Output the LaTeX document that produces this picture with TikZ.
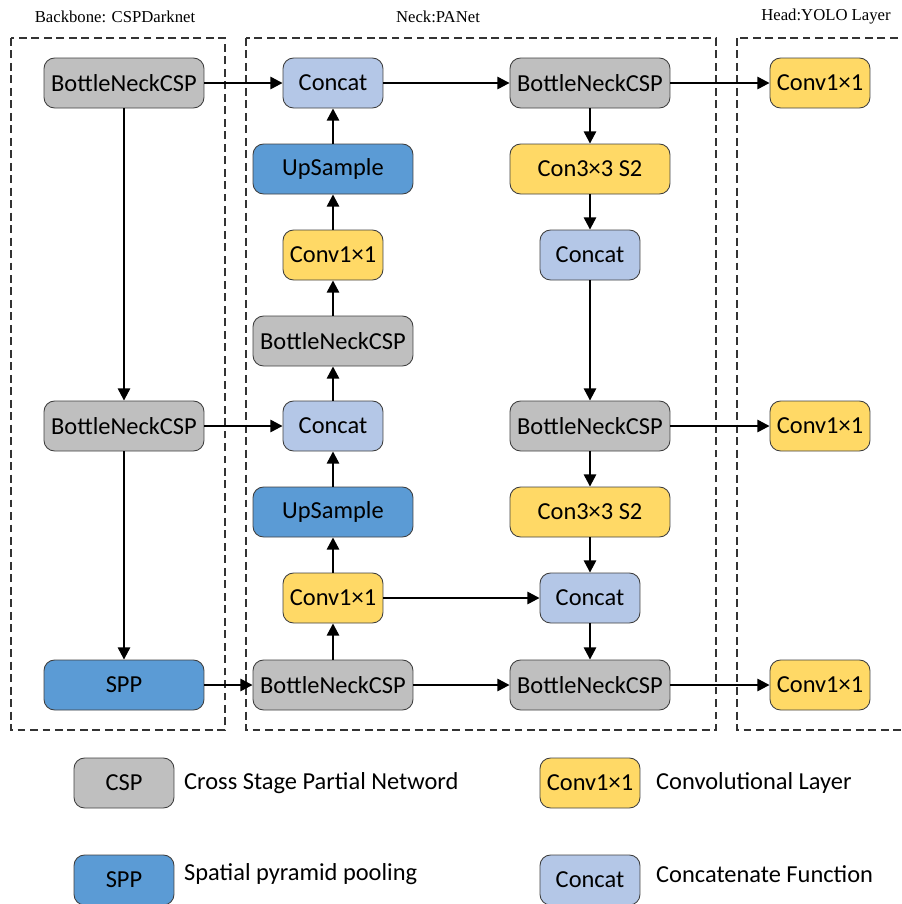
\documentclass[tikz,border=0pt]{standalone}
\usepackage{fontspec}
\setmainfont{Carlito}
\newfontfamily\titlefont{Liberation Serif}
\usetikzlibrary{arrows.meta,positioning}

\begin{document}
\begin{tikzpicture}[
    x=0.02cm, y=-0.02cm,
    font=\fontsize{13.9}{16}\selectfont,
    >={Triangle[length=7pt,width=7pt]},
    title/.style={font=\titlefont\fontsize{9.5}{11}\selectfont},
    stage/.style={draw=black!80, line width=0.6pt, dash pattern=on 4.5pt off 2.6pt},
    blk/.style={draw=black!75, line width=0.5pt, rounded corners=6pt, minimum height=1cm, inner sep=0pt},
    wide/.style={blk, minimum width=3.2cm},
    narrow/.style={blk, minimum width=2cm},
    csp/.style={wide, fill=csgray},
    spp/.style={wide, fill=sppblue},
    conv/.style={narrow, fill=convyellow},
    cat/.style={narrow, fill=catblue},
    legtext/.style={anchor=west},
    link/.style={->, line width=1.3pt},
]
\definecolor{csgray}{HTML}{BFBFBF}
\definecolor{sppblue}{HTML}{5B9BD5}
\definecolor{convyellow}{HTML}{FFD966}
\definecolor{catblue}{HTML}{B4C7E7}

\clip (0,0) rectangle (902,904);
\useasboundingbox (0,0) rectangle (902,904);

% ---- stage frames and titles ----
\draw[stage] (11,38) rectangle (225,730);
\draw[stage] (246,38) rectangle (716,730);
\draw[stage] (737,38) rectangle (930,730);
\node[title] (tbb) at (115,17) {Backbone: CSPDarknet};
\node[title] (tneck) at (438,17) {Neck:PANet};
\node[title] (thead) at (826,17) {Head:YOLO Layer};

% ---- backbone ----
\node[csp] (bb1) at (124,83) {BottleNeckCSP};
\node[csp] (bb2) at (124,426) {BottleNeckCSP};
\node[spp] (bb3) at (124,685) {SPP};

% ---- neck, top-down path ----
\node[cat]  (ncat1) at (333,83)  {Concat};
\node[spp]  (nup1)  at (333,169) {UpSample};
\node[conv] (ncv1)  at (333,255) {Conv1×1};
\node[csp]  (ncsp1) at (333,341) {BottleNeckCSP};
\node[cat]  (ncat2) at (333,426) {Concat};
\node[spp]  (nup2)  at (333,512) {UpSample};
\node[conv] (ncv2)  at (333,598) {Conv1×1};
\node[csp]  (ncsp2) at (333,685) {BottleNeckCSP};

% ---- neck, bottom-up path ----
\node[csp]  (rcsp1) at (590,83)  {BottleNeckCSP};
\node[conv, minimum width=3.2cm] (rcon1) at (590,169) {Con3×3 S2};
\node[cat]  (rcat1) at (590,255) {Concat};
\node[csp]  (rcsp2) at (590,426) {BottleNeckCSP};
\node[conv, minimum width=3.2cm] (rcon2) at (590,512) {Con3×3 S2};
\node[cat]  (rcat2) at (590,598) {Concat};
\node[csp]  (rcsp3) at (590,685) {BottleNeckCSP};

% ---- head ----
\node[conv] (hd1) at (820,83)  {Conv1×1};
\node[conv] (hd2) at (820,426) {Conv1×1};
\node[conv] (hd3) at (820,685) {Conv1×1};

% ---- connectors ----
\draw[link] (bb1) -- (bb2);
\draw[link] (bb2) -- (bb3);
\draw[link] (bb1) -- (ncat1);
\draw[link] (bb2) -- (ncat2);
\draw[link] (bb3) -- (ncsp2);

\draw[link] (ncsp2) -- (ncv2);
\draw[link] (ncv2) -- (nup2);
\draw[link] (nup2) -- (ncat2);
\draw[link] (ncat2) -- (ncsp1);
\draw[link] (ncsp1) -- (ncv1);
\draw[link] (ncv1) -- (nup1);
\draw[link] (nup1) -- (ncat1);

\draw[link] (ncat1) -- (rcsp1);
\draw[link] (rcsp1) -- (rcon1);
\draw[link] (rcon1) -- (rcat1);
\draw[link] (rcat1) -- (rcsp2);
\draw[link] (rcsp2) -- (rcon2);
\draw[link] (rcon2) -- (rcat2);
\draw[link] (ncv2) -- (rcat2);
\draw[link] (rcat2) -- (rcsp3);
\draw[link] (ncsp2) -- (rcsp3);

\draw[link] (rcsp1) -- (hd1);
\draw[link] (rcsp2) -- (hd2);
\draw[link] (rcsp3) -- (hd3);

% ---- legend ----
\node[csp, minimum width=2cm] (lcsp) at (124,783) {CSP};
\node[legtext] (lcspt) at (178,783) {Cross Stage Partial Netword};
\node[spp, minimum width=2cm] (lspp) at (124,880) {SPP};
\node[legtext] (lsppt) at (178,874) {Spatial pyramid pooling};
\node[conv] (lconv) at (590,783) {Conv1×1};
\node[legtext] (lconvt) at (650,783) {Convolutional Layer};
\node[cat] (lcat) at (590,880) {Concat};
\node[legtext] (lcatt) at (650,874) {Concatenate Function};
\end{tikzpicture}
\end{document}
